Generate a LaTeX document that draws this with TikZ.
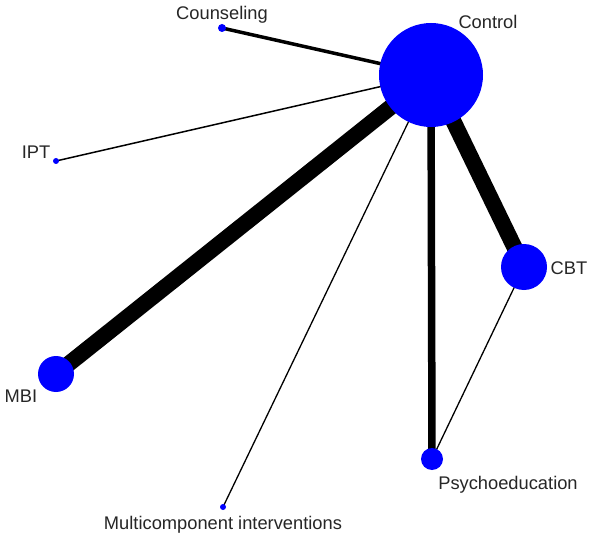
\documentclass[tikz,border=0pt]{standalone}
\usepackage{fontspec}
\setmainfont{Liberation Sans}
\usetikzlibrary{backgrounds}
\begin{document}
\begin{tikzpicture}[x=1pt,y=-1pt,
  trt/.style={circle,fill=blue,draw=none,inner sep=0pt,minimum size=#1},
  lbl/.style={inner sep=0pt,text=black!85,font=\fontsize{18.3}{22}\selectfont},
  edge/.style={draw=black,line width=#1}]
\useasboundingbox (0,0) rectangle (590,535);
\node[trt=104pt] (ctl) at (431,75) {};
\node[trt=8pt] (cou) at (222,28) {};
\node[trt=6pt] (ipt) at (56,161) {};
\node[trt=46pt] (cbt) at (524,267) {};
\node[trt=36pt] (mbi) at (56,374) {};
\node[trt=22pt] (psy) at (432,459) {};
\node[trt=6pt] (mul) at (223,507) {};
\begin{scope}[on background layer]
\fill[white] (0,0) rectangle (590,535);
\draw[edge=3.5pt] (ctl.center) -- (cou.center);
\draw[edge=1.5pt] (ctl.center) -- (ipt.center);
\draw[edge=16pt] (ctl.center) -- (mbi.center);
\draw[edge=1.3pt] (ctl.center) -- (mul.center);
\draw[edge=7.5pt] (ctl.center) -- (psy.center);
\draw[edge=16pt] (ctl.center) -- (cbt.center);
\draw[edge=1.3pt] (cbt.center) -- (psy.center);
\end{scope}
\node[lbl] (lctl) at (488,22) {Control};
\node[lbl] (lcou) at (222,15) {Counseling};
\node[lbl] (lipt) at (36,152) {IPT};
\node[lbl] (lcbt) at (569,268) {CBT};
\node[lbl] (lmbi) at (21,396) {MBI};
\node[lbl] (lpsy) at (508,485) {Psychoeducation};
\node[lbl] (lmul) at (223,525) {Multicomponent interventions};
\end{tikzpicture}
\end{document}
